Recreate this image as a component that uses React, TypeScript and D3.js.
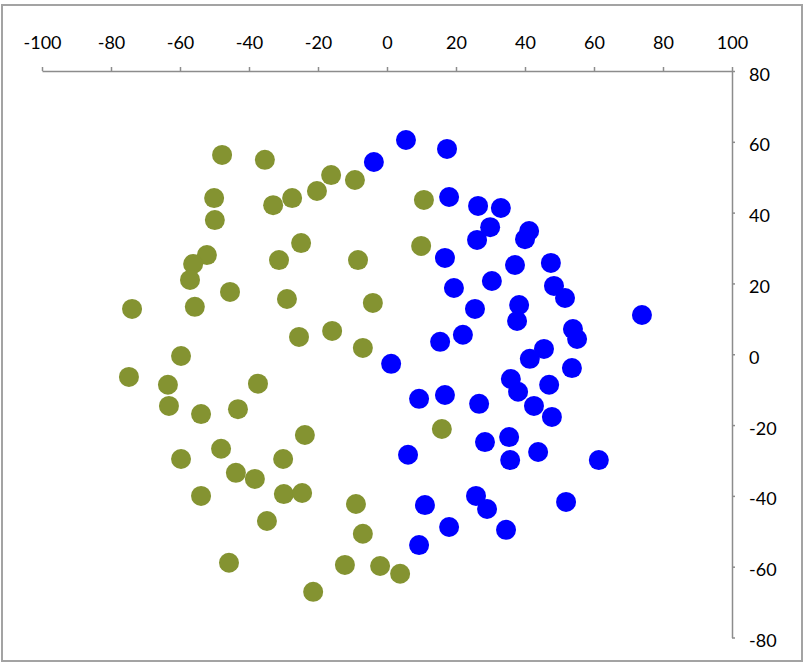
import { useEffect, useRef } from 'react'
import * as d3 from 'd3'

const X_TICKS = [-100, -80, -60, -40, -20, 0, 20, 40, 60, 80, 100]
const Y_TICKS = [-80, -60, -40, -20, 0, 20, 40, 60, 80]

const OLIVE_X = [
  -47.8, -35.4, -16.2, -9.3, -20.3, -27.5, -33.0, -50.1, -49.9, 10.7,
  -24.9, 9.9, -31.3, -8.4, -52.2, -56.2, -57.1, -45.5, -29.0, -4.1,
  -73.9, -55.7, -15.9, -25.5, -7.0, -59.7, -74.8, -63.5, -37.4, -63.2,
  -53.9, -43.2, -23.8, 15.9, -48.1, -30.1, -59.7, -43.8, -38.3, -29.9,
  -24.6, -53.9, -9.0, -34.8, -7.0, -45.8, -12.2, -2.0, 3.8, -21.4,
]
const OLIVE_Y = [
  56.3, 54.9, 50.6, 49.2, 46.1, 44.1, 42.1, 44.1, 37.9, 43.6,
  31.4, 30.6, 26.6, 26.6, 28.0, 25.5, 21.0, 17.6, 15.6, 14.5,
  12.8, 13.4, 6.6, 4.9, 1.8, -0.5, -6.4, -8.6, -8.3, -14.6,
  -16.9, -15.5, -22.8, -21.1, -26.7, -29.6, -29.6, -33.5, -35.2, -39.5,
  -39.2, -40.0, -42.3, -47.1, -50.7, -58.9, -59.5, -59.8, -62.0, -67.1,
]

const BLUE_X = [
  5.5, 17.4, -3.8, 18.0, 26.4, 33.0, 29.9, 26.1, 41.2, 40.0,
  16.8, 47.5, 37.1, 30.4, 19.4, 48.4, 51.6, 38.3, 37.7, 25.5,
  73.9, 53.9, 55.1, 22.0, 15.4, 45.5, 41.4, 1.2, 53.6, 35.9,
  38.0, 47.0, 9.3, 16.8, 26.7, 42.6, 47.8, 35.4, 28.4, 43.8,
  35.7, 61.4, 6.1, 25.8, 29.0, 51.9, 11.0, 18.0, 34.5, 9.3,
]
const BLUE_Y = [
  60.5, 58.0, 54.3, 44.4, 41.9, 41.3, 35.9, 32.3, 34.8, 32.5,
  27.2, 25.8, 25.2, 20.7, 18.7, 19.3, 15.9, 13.9, 9.4, 12.8,
  11.1, 7.1, 4.3, 5.5, 3.5, 1.5, -1.3, -2.7, -3.9, -7.0,
  -10.6, -8.6, -12.6, -11.5, -14.0, -14.6, -17.7, -23.4, -24.8, -27.6,
  -29.9, -29.9, -28.4, -40.0, -43.7, -41.7, -42.6, -48.8, -49.6, -53.9,
]

const SERIES = [
  { name: 'olive', color: '#849331', xs: OLIVE_X, ys: OLIVE_Y },
  { name: 'blue', color: '#0000ff', xs: BLUE_X, ys: BLUE_Y },
]

export default function App() {
  const svgRef = useRef<SVGSVGElement>(null)

  useEffect(() => {
    const W = 807
    const H = 667
    const svg = d3.select(svgRef.current)
    svg.selectAll('*').remove()
    svg.attr('width', W).attr('height', H)

    const x = d3.scaleLinear().domain([-100, 100]).range([42, 732])
    const y = d3.scaleLinear().domain([-80, 80]).range([637.5, 71])
    const fmt = (d: any) => String(d) // plain hyphen, like the original

    // chart border
    svg.append('rect')
      .attr('x', 2).attr('y', 5)
      .attr('width', 800).attr('height', 656)
      .attr('fill', '#fff')
      .attr('stroke', '#a3a3a3')
      .attr('stroke-width', 2)

    const font = 'Lato, "Liberation Sans", sans-serif'

    // top axis (crosses at y = 80)
    svg.append('g')
      .attr('transform', `translate(0,${y(80)})`)
      .call(d3.axisTop(x).tickValues(X_TICKS).tickFormat(fmt).tickSize(4).tickPadding(18).tickSizeOuter(0))
      .call((ax) => ax.select('.domain').attr('stroke', '#8c8c8c').attr('stroke-width', 1.5))
      .call((ax) => ax.selectAll('line').attr('stroke', '#8c8c8c').attr('stroke-width', 1.5))
      .call((ax) => ax.selectAll('text')
        .attr('fill', '#000')
        .attr('font-size', 18)
        .attr('font-family', font))

    // right axis (crosses at x = 100)
    svg.append('g')
      .attr('transform', `translate(${x(100)},0)`)
      .call(d3.axisRight(y).tickValues(Y_TICKS).tickFormat(fmt).tickSize(3).tickPadding(14).tickSizeOuter(0))
      .call((ax) => ax.select('.domain').attr('stroke', '#8c8c8c').attr('stroke-width', 1.5))
      .call((ax) => ax.selectAll('line').attr('stroke', '#8c8c8c').attr('stroke-width', 1.5))
      .call((ax) => ax.selectAll('text')
        .attr('fill', '#000')
        .attr('font-size', 18)
        .attr('font-family', font)
        .attr('dy', '0.5em'))

    // points
    SERIES.forEach((s) => {
      const pts = s.xs.map((v, i) => [v, s.ys[i]])
      svg.append('g')
        .selectAll('circle')
        .data(pts)
        .join('circle')
        .attr('cx', (d) => x(d[0]))
        .attr('cy', (d) => y(d[1]))
        .attr('r', 10)
        .attr('fill', s.color)
    })
  }, [])

  return (
    <div style={{ position: 'absolute', left: 0, top: 0 }}>
      <svg ref={svgRef} style={{ display: 'block' }} />
    </div>
  )
}
